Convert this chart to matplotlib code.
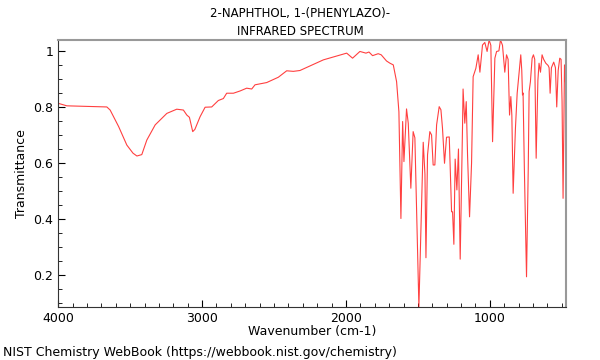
import matplotlib
matplotlib.use("Agg")
import matplotlib.pyplot as plt
from matplotlib.ticker import MultipleLocator, FormatStrFormatter

title = "2-NAPHTHOL, 1-(PHENYLAZO)-\nINFRARED SPECTRUM"
credit = "NIST Chemistry WebBook (https://webbook.nist.gov/chemistry)"

# wavenumber (cm-1)
wavenumber = [
    4000, 3940, 3800, 3662, 3639, 3580, 3523, 3480, 3453, 3419, 3384, 3326,
    3245, 3176, 3130, 3106, 3088, 3065, 3050, 3014, 2979, 2933, 2887, 2852,
    2829, 2782, 2736, 2690, 2655, 2632, 2551, 2470, 2412, 2366, 2320, 2157,
    1995, 1954, 1903, 1861, 1840, 1815, 1776, 1755, 1718, 1694, 1671, 1648,
    1632, 1618, 1606, 1597, 1579, 1567, 1549, 1533, 1521, 1493, 1481, 1463,
    1451, 1444, 1433, 1417, 1405, 1394, 1382, 1370, 1352, 1340, 1329, 1315,
    1301, 1282, 1266, 1259, 1250, 1241, 1229, 1218, 1206, 1190, 1186, 1174,
    1164, 1155, 1141, 1127, 1116, 1097, 1081, 1069, 1051, 1035, 1019, 1005,
    993, 981, 965, 953, 937, 926, 912, 896, 884, 873, 863, 854,
    847, 838, 822, 810, 796, 785, 778, 773, 769, 760, 745, 733,
    727, 718, 706, 697, 688, 678, 666, 658, 648, 637, 626, 611,
    595, 588, 581, 572, 556, 544, 535, 525, 514, 505, 498, 491,
    481, 472,
]

transmittance = [
    0.813, 0.804, 0.802, 0.800, 0.789, 0.730, 0.664, 0.635, 0.625, 0.630, 0.682, 0.736,
    0.777, 0.792, 0.789, 0.771, 0.763, 0.712, 0.720, 0.765, 0.799, 0.800, 0.823, 0.830,
    0.849, 0.849, 0.857, 0.867, 0.864, 0.879, 0.887, 0.906, 0.929, 0.927, 0.930, 0.968,
    0.992, 0.974, 0.998, 0.992, 0.996, 0.983, 0.990, 0.986, 0.964, 0.956, 0.950, 0.890,
    0.783, 0.402, 0.748, 0.605, 0.793, 0.742, 0.510, 0.712, 0.690, 0.087, 0.319, 0.674,
    0.560, 0.262, 0.629, 0.712, 0.700, 0.593, 0.593, 0.736, 0.801, 0.790, 0.724, 0.599,
    0.692, 0.693, 0.426, 0.426, 0.310, 0.614, 0.504, 0.650, 0.257, 0.724, 0.864, 0.742,
    0.819, 0.630, 0.408, 0.600, 0.908, 0.938, 0.986, 0.924, 1.021, 1.030, 0.998, 1.039,
    1.020, 0.676, 0.974, 0.998, 1.000, 1.039, 1.020, 0.924, 0.986, 0.970, 0.771, 0.837,
    0.770, 0.492, 0.724, 0.849, 0.926, 0.986, 0.930, 0.843, 0.850, 0.580, 0.194, 0.580,
    0.855, 0.890, 0.974, 0.986, 0.970, 0.617, 0.895, 0.956, 0.924, 0.986, 0.970, 0.956,
    0.948, 0.940, 0.849, 0.940, 0.960, 0.940, 0.800, 0.930, 0.974, 0.970, 0.820, 0.474,
    0.950, 0.870,
]

fig = plt.figure(figsize=(6, 3.6), dpi=100)
ax = fig.add_axes([0.097, 0.147, 0.846, 0.742])

ax.plot(wavenumber, transmittance, color="red", linewidth=0.8, alpha=0.75)

ax.set_xlim(4000, 472)
ax.set_ylim(0.086, 1.039)

ax.xaxis.set_major_locator(MultipleLocator(1000))
ax.xaxis.set_minor_locator(MultipleLocator(100))
ax.yaxis.set_major_locator(MultipleLocator(0.2))
ax.yaxis.set_minor_locator(MultipleLocator(0.05))
ax.yaxis.set_major_formatter(FormatStrFormatter("%g"))
ax.xaxis.set_major_formatter(FormatStrFormatter("%d"))

ax.tick_params(which="both", direction="in", top=False, right=False, labelsize=9)
ax.tick_params(which="major", length=5, width=0.8)
ax.tick_params(which="minor", length=3, width=0.6)

for side in ("top", "right"):
    ax.spines[side].set_color("#999999")
    ax.spines[side].set_linewidth(1.5)
for side in ("left", "bottom"):
    ax.spines[side].set_color("#333333")
    ax.spines[side].set_linewidth(0.8)

ax.set_xlabel("Wavenumber (cm-1)", fontsize=9, labelpad=0)
ax.set_ylabel("Transmittance", fontsize=9)
fig.text(0.5, 0.98, title, ha="center", va="top", fontsize=8.5, linespacing=1.45)
fig.text(0.005, 0.003, credit, ha="left", va="bottom", fontsize=9)

fig.savefig("out.png", dpi=100)
